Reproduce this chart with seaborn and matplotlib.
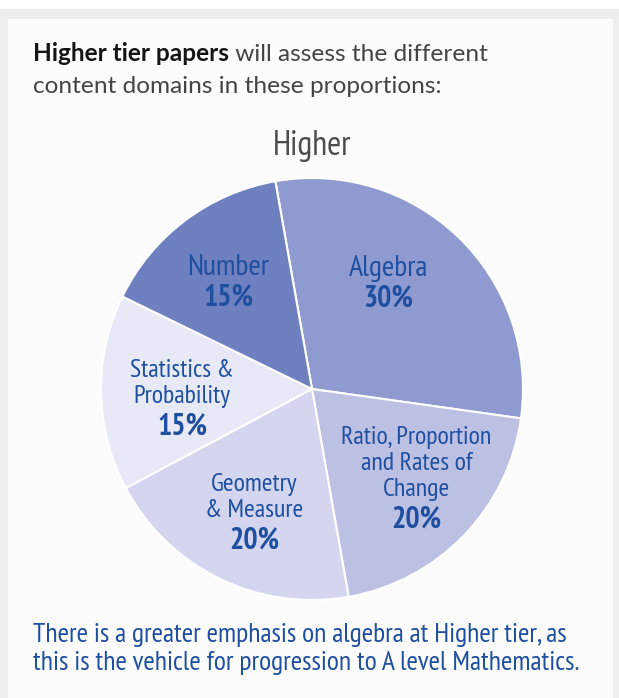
import matplotlib
matplotlib.use("Agg")
import matplotlib.pyplot as plt
import seaborn as sns
import numpy as np
from matplotlib.patches import Rectangle

# ---- data ----
domains = ["Algebra", "Ratio, Proportion\nand Rates of\nChange", "Geometry\n& Measure",
           "Statistics &\nProbability", "Number"]
shares = [30, 20, 20, 15, 15]
colors = ["#8f9bd0", "#bcc0e3", "#d3d6ee", "#e8e9f6", "#6e80bf"]
chart_title = "Higher"
header_bold = "Higher tier papers"
header_rest = " will assess the different"
header_line2 = "content domains in these proportions:"
footer_lines = ["There is a greater emphasis on algebra at Higher tier, as",
                "this is the vehicle for progression to A level Mathematics."]

# label placement tweaks (pixels, x right / y up), styling only
label_nudge = [(-17, 9), (8, 4), (1, -3), (4, -7), (-3, -1)]

sns.set_theme(style="white")
NARROW = ['PT Sans Narrow', 'Archivo Narrow', 'DejaVu Sans']
plt.rcParams['font.family'] = NARROW

W, H = 619, 698
fig = plt.figure(figsize=(W / 100, H / 100), dpi=100)
fig.patch.set_facecolor('white')
fig.add_artist(Rectangle((0, 0), 1, 1 - 9 / H, transform=fig.transFigure,
                         facecolor='#eeeeee', edgecolor='none', zorder=-10))
fig.add_artist(Rectangle((8 / W, 0), (613 - 8) / W, 1 - 19 / H, transform=fig.transFigure,
                         facecolor='#fcfcfc', edgecolor='none', zorder=-9))

cx, cy, R = 312, 389, 211
ax = fig.add_axes([(cx - R) / W, 1 - (cy + R) / H, 2 * R / W, 2 * R / H])
ax.set_facecolor('none')
wedges, _ = ax.pie(shares, colors=colors, startangle=100, counterclock=False,
                   wedgeprops=dict(edgecolor='white', linewidth=1.5))
ax.set_xlim(-1, 1)
ax.set_ylim(-1, 1)
ax.set_axis_off()

label_color = '#1f4fa0'
pt = 72 / 100  # px -> points
PFS = 21.5
for w, name, share, (nx, ny) in zip(wedges, domains, shares, label_nudge):
    th = np.deg2rad((w.theta1 + w.theta2) / 2)
    x, y = 0.635 * np.cos(th), 0.635 * np.sin(th)
    lines = name.split('\n')
    n = len(lines)
    nfs = 21.5 if n == 1 else 18.7
    block = (n - 1) * 26 + 30
    top = block / 2 + ny
    for i, ln in enumerate(lines):
        ax.annotate(ln, xy=(x, y), xytext=(nx * pt, (top - i * 26) * pt), textcoords='offset points',
                    ha='center', va='center', fontsize=nfs, color=label_color)
    ax.annotate(f"{share}%", xy=(x, y), xytext=(nx * pt, (top - block) * pt), textcoords='offset points',
                ha='center', va='center', fontsize=PFS, fontweight='bold', color=label_color)

fig.text(cx / W, 1 - 146 / H, chart_title, ha='center', va='center', fontsize=24.5, color='#4d4d4d')

HEAD = ['Lato', 'DejaVu Sans']
HFS = 17.6
t1 = fig.text(33 / W, 1 - 61 / H, header_bold, ha='left', va='baseline', fontsize=HFS,
              fontweight='bold', color='#141414', family=HEAD)
fig.canvas.draw()
bb = t1.get_window_extent()
fig.text(bb.x1 / W, 1 - 61 / H, header_rest, ha='left', va='baseline', fontsize=HFS,
         color='#444444', family=HEAD)
fig.text(33 / W, 1 - 93 / H, header_line2, ha='left', va='baseline', fontsize=HFS,
         color='#444444', family=HEAD)

for i, ln in enumerate(footer_lines):
    fig.text(33 / W, 1 - (642 + i * 28) / H, ln, ha='left', va='baseline', fontsize=20.0,
             color=label_color)

fig.savefig("out.png", dpi=100)
